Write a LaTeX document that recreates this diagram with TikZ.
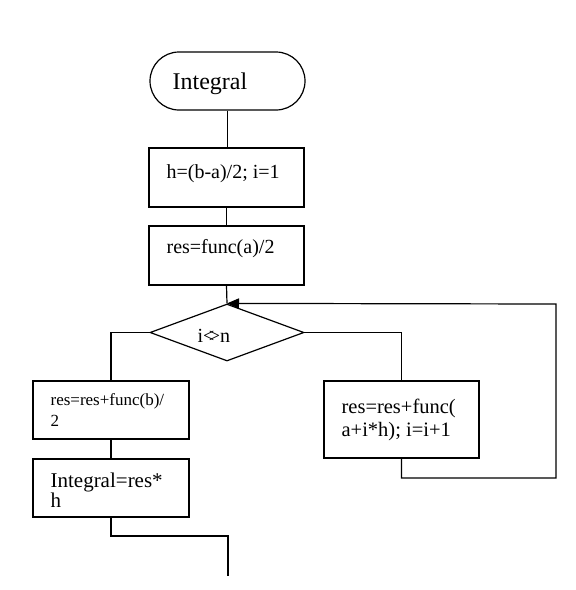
\documentclass[tikz,border=0pt]{standalone}
\usepackage{fontspec}
\setmainfont{Liberation Serif}
\usetikzlibrary{shapes.geometric,arrows.meta}
\begin{document}
\begin{tikzpicture}[x=1pt,y=-1pt,line width=1.2pt,
  box/.style={draw,rectangle,inner sep=0pt,minimum width=155pt,minimum height=59pt},
  term/.style={draw,rectangle,rounded corners=29pt,inner sep=0pt,minimum width=155pt,minimum height=58pt},
  dia/.style={draw,diamond,inner sep=0pt,minimum width=154pt,minimum height=57pt},
  txt/.style={anchor=base west,inner sep=0pt}]
\useasboundingbox (0,0) rectangle (576,590);
\node[term] (t) at (227.5,81) {};
\node[box] (b1) at (226.5,177.5) {};
\node[box] (b2) at (226.5,255.5) {};
\node[dia] (d) at (227,332.5) {};
\node[box,minimum width=155pt,minimum height=77pt] (rb) at (401.5,419.5) {};
\node[box,minimum width=156pt,minimum height=58pt] (l1) at (111,410) {};
\node[box,minimum width=156pt,minimum height=58pt] (l2) at (111,488) {};
\coordinate (lr) at (556,478);
\coordinate (ur) at (556,304);
\coordinate (j) at (228,536);
\coordinate (e) at (228,576);
% texts
\node[txt,font=\fontsize{24}{26}\selectfont] (tt) at (172,89) {Integral};
\node[txt,font=\fontsize{20}{22}\selectfont] (b1t) at (166,178) {h=(b-a)/2; i=1};
\node[txt,font=\fontsize{20}{22}\selectfont] (b2t) at (166,253) {res=func(a)/2};
\node[txt,font=\fontsize{20}{22}\selectfont] (dt) at (197,342) {i<\kern-0.28em>n};
\node[txt,font=\fontsize{20.5}{22}\selectfont] (rt1) at (341,413) {res=res+func(};
\node[txt,font=\fontsize{20.5}{22}\selectfont] (rt2) at (341,436) {a+i*h); i=i+1};
\node[txt,font=\fontsize{17}{19}\selectfont] (l1t1) at (50,405) {res=res+func(b)/};
\node[txt,font=\fontsize{17}{19}\selectfont] (l1t2) at (50,426) {2};
\node[txt,font=\fontsize{21}{22}\selectfont] (l2t1) at (50,487) {Integral=res*};
\node[txt,font=\fontsize{21}{22}\selectfont] (l2t2) at (50,507) {h};
% connectors
\draw (t.south) -- (t.south |- b1.north);
\draw (b1.south) -- (b2.north);
\draw (b2.south) -- (d.north);
\draw (d.west) -| (l1.north);
\draw (d.east) -| (rb.north);
\draw[-{Triangle[length=12pt,width=10pt]}] (rb.south) |- (lr) -- (ur) -- (d.north);
\draw (l1.south) -- (l2.north);
\draw (l2.south) |- (j) -- (e);
\end{tikzpicture}
\end{document}
